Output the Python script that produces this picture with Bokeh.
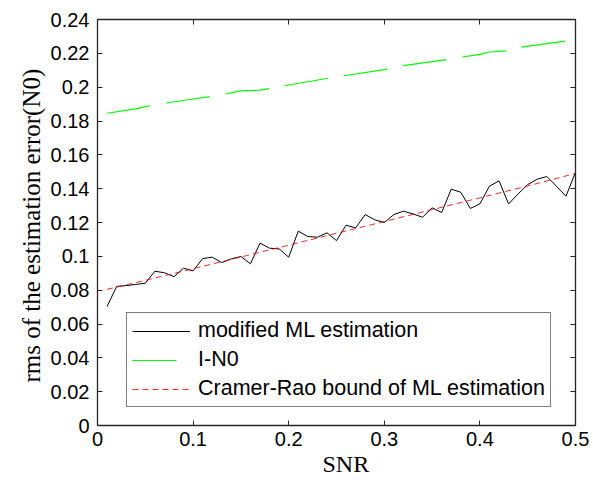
from bokeh.plotting import figure
from bokeh.models import Range1d, LinearAxis, FixedTicker, Legend, LegendItem, Title
from bokeh.embed import file_html
from bokeh.resources import INLINE

# ---- data ----
snr = [0.01, 0.02, 0.03, 0.04, 0.05, 0.06, 0.07, 0.08, 0.09, 0.10,
       0.11, 0.12, 0.13, 0.14, 0.15, 0.16, 0.17, 0.18, 0.19, 0.20,
       0.21, 0.22, 0.23, 0.24, 0.25, 0.26, 0.27, 0.28, 0.29, 0.30,
       0.31, 0.32, 0.33, 0.34, 0.35, 0.36, 0.37, 0.38, 0.39, 0.40,
       0.41, 0.42, 0.43, 0.44, 0.45, 0.46, 0.47, 0.48, 0.49, 0.50]
ml_rms = [0.0703, 0.0822, 0.0827, 0.0834, 0.0841, 0.0912, 0.0903, 0.0880, 0.0930, 0.0914,
          0.0987, 0.0995, 0.0963, 0.0985, 0.0999, 0.0956, 0.1078, 0.1048, 0.1044, 0.0995,
          0.1149, 0.1117, 0.1113, 0.1139, 0.1093, 0.1184, 0.1168, 0.1247, 0.1216, 0.1200,
          0.1247, 0.1267, 0.1251, 0.1231, 0.1287, 0.1259, 0.1397, 0.1379, 0.1283, 0.1310,
          0.1415, 0.1446, 0.1310, 0.1369, 0.1424, 0.1456, 0.1472, 0.1415, 0.1355, 0.1497]

in0_snr = [0.01, 0.04, 0.05, 0.07, 0.10, 0.13, 0.15, 0.17, 0.20, 0.25,
           0.30, 0.32, 0.37, 0.38, 0.40, 0.41, 0.43, 0.44, 0.49, 0.50]
in0_rms = [0.1846, 0.1872, 0.1885, 0.1905, 0.1930, 0.1955, 0.1978, 0.1982, 0.2013, 0.2061,
           0.2104, 0.2127, 0.2166, 0.2177, 0.2194, 0.2208, 0.2215, 0.2234, 0.2273, 0.2280]

crb_snr = [0.01, 0.05, 0.10, 0.15, 0.20, 0.25, 0.30, 0.35, 0.40, 0.45, 0.50]
crb_rms = [0.0805, 0.0858, 0.0927, 0.0996, 0.1066, 0.1136, 0.1206, 0.1276, 0.1346, 0.1416, 0.1490]

xticks = [0, 0.1, 0.2, 0.3, 0.4, 0.5]
xtick_labels = ["0", "0.1", "0.2", "0.3", "0.4", "0.5"]
yticks = [0, 0.02, 0.04, 0.06, 0.08, 0.1, 0.12, 0.14, 0.16, 0.18, 0.2, 0.22, 0.24]
ytick_labels = ["0", "0.02", "0.04", "0.06", "0.08", "0.1", "0.12", "0.14",
                "0.16", "0.18", "0.2", "0.22", "0.24"]

x_label = "SNR"
y_label = "rms of the estimation error(N0)"
series_names = ["modified ML estimation", "I-N0", "Cramer-Rao bound of ML estimation"]

# ---- figure ----
p = figure(width=593, height=486, output_backend="svg", toolbar_location=None,
           x_range=Range1d(0, 0.5), y_range=Range1d(0, 0.24),
           min_border_left=97, min_border_right=18, min_border_top=19, min_border_bottom=61)
p.background_fill_color = "white"
p.border_fill_color = "white"
p.outline_line_color = "#262626"
p.outline_line_width = 1
p.xgrid.grid_line_color = None
p.ygrid.grid_line_color = None

tick_font = "Liberation Sans"
label_font = "Liberation Serif"


def style_axis(ax, ticks, labels=None, standoff=7):
    ax.ticker = FixedTicker(ticks=ticks)
    ax.major_tick_in = 5
    ax.major_tick_out = 0
    ax.minor_tick_line_color = None
    ax.axis_line_color = "#262626"
    ax.axis_line_width = 1.3
    ax.major_tick_line_color = "#262626"
    ax.major_label_text_font = tick_font
    if labels is not None:
        ax.major_label_overrides = dict(zip(ticks, labels))
        ax.major_label_text_color = "black"
        ax.major_label_text_font_size = "20px"
        ax.major_label_standoff = standoff
    else:
        # box-style tick marks only (no labels on top / right)
        ax.major_label_text_color = None
        ax.major_label_text_font_size = "0px"
        ax.major_label_standoff = 0


style_axis(p.xaxis[0], xticks, xtick_labels, standoff=6)
style_axis(p.yaxis[0], yticks, ytick_labels, standoff=8)

top_ax = LinearAxis()
style_axis(top_ax, xticks)
p.add_layout(top_ax, "above")
right_ax = LinearAxis()
style_axis(right_ax, yticks)
p.add_layout(right_ax, "right")

# axis titles (MATLAB places them slightly off-centre)
xt = Title(text=x_label, align="left", offset=225, standoff=0,
           text_font=label_font, text_font_size="24px", text_font_style="normal",
           text_color="black")
p.add_layout(xt, "below")
yt = Title(text=y_label, align="left", offset=43, standoff=6,
           text_font=label_font, text_font_size="25px", text_font_style="normal",
           text_color="black")
p.add_layout(yt, "left")

r_ml = p.line(snr, ml_rms, line_color="black", line_width=1)
r_in0 = p.line(in0_snr, in0_rms, line_color="#00ff00", line_width=1.2, line_dash="44 16")
r_crb = p.line(crb_snr, crb_rms, line_color="#ff0000", line_width=1, line_dash="6 4", line_alpha=0.85)

legend = Legend(items=[LegendItem(label=series_names[0], renderers=[r_ml]),
                       LegendItem(label=series_names[1], renderers=[r_in0]),
                       LegendItem(label=series_names[2], renderers=[r_crb])],
                location=(29, 18))
legend.border_line_color = "black"
legend.border_line_width = 1.2
legend.background_fill_color = "white"
legend.background_fill_alpha = 1
legend.label_text_font = tick_font
legend.label_text_font_size = "21.5px"
legend.label_text_color = "black"
legend.glyph_width = 58
legend.glyph_height = 20
legend.label_height = 20
legend.label_standoff = 8
legend.spacing = 4
legend.padding = 5
legend.margin = 0
p.add_layout(legend)

open("out.html", "w").write(file_html(p, INLINE))
